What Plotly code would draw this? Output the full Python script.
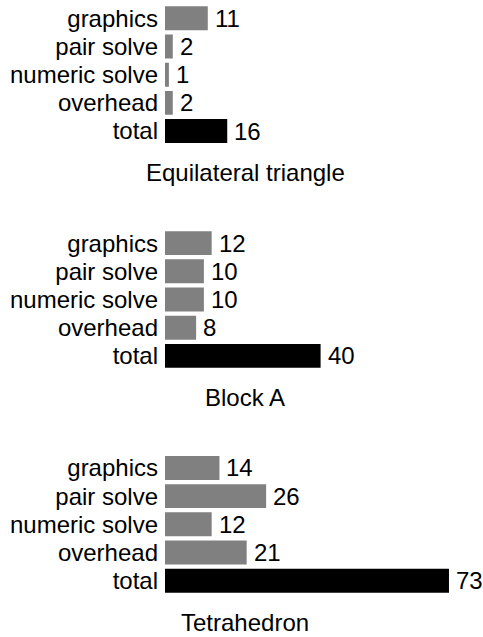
import plotly.graph_objects as go

# ---- data ----
categories = ["graphics", "pair solve", "numeric solve", "overhead", "total"]
group_titles = ["Equilateral triangle", "Block A", "Tetrahedron"]
equilateral_triangle = [11, 2, 1, 2, 16]
block_a = [12, 10, 10, 8, 40]
tetrahedron = [14, 26, 12, 21, 73]
series = [equilateral_triangle, block_a, tetrahedron]

# ---- styling / layout constants ----
W, H = 483, 637
FONT = "Liberation Sans, Arial, Helvetica, sans-serif"
FS = 24
GREY = "#808080"
BLACK = "#000000"
LEFT = 165          # pixel x of bar baseline
PX_PER_UNIT = 3.89
PITCH = 28.75       # px per category row
FIRST_CENTER = 17.2 # px from top of first row in group 1
GROUP_STEP = 224.8  # px between groups
TITLE_OFFSET = 155.5
TITLE_X = 245

plot_w = W - LEFT
xmax = plot_w / PX_PER_UNIT

fig = go.Figure()
annotations = []
for i, (vals, title) in enumerate(zip(series, group_titles)):
    idx = "" if i == 0 else str(i + 1)
    xa, ya = "x" + idx, "y" + idx
    colors = [BLACK if c == "total" else GREY for c in categories]
    fig.add_trace(go.Bar(
        x=vals, y=categories, orientation="h",
        marker=dict(color=colors, line=dict(width=0)),
        xaxis=xa, yaxis=ya, width=0.85, showlegend=False,
        hoverinfo="x+y",
    ))
    center0 = FIRST_CENTER + i * GROUP_STEP
    top_px = center0 - PITCH / 2
    bot_px = top_px + PITCH * len(categories)
    dom = [1 - bot_px / H, 1 - top_px / H]
    fig.update_layout(**{
        "xaxis" + idx: dict(range=[0, xmax], domain=[0, 1], visible=False,
                             anchor=ya, fixedrange=True),
        "yaxis" + idx: dict(domain=dom, anchor=xa, autorange="reversed",
                             categoryorder="array", categoryarray=categories,
                             tickmode="array", tickvals=categories,
                             ticktext=categories, fixedrange=True,
                             showgrid=False, zeroline=False, showline=False,
                             ticks="", ticklabelstandoff=6,
                             tickfont=dict(family=FONT, size=FS, color="black")),
    })
    for c, v in zip(categories, vals):
        annotations.append(dict(
            x=v, y=c, xref=xa, yref=ya, text=str(v), showarrow=False,
            xanchor="left", yanchor="middle", xshift=5,
            font=dict(family=FONT, size=FS, color="black")))
    annotations.append(dict(
        x=(TITLE_X - LEFT) / plot_w, y=1 - (center0 + TITLE_OFFSET) / H,
        xref="paper", yref="paper",
        text=title, showarrow=False, xanchor="center", yanchor="middle",
        font=dict(family=FONT, size=FS, color="black")))

fig.update_layout(
    width=W, height=H,
    margin=dict(l=LEFT, r=0, t=0, b=0, pad=0),
    paper_bgcolor="white", plot_bgcolor="white",
    annotations=annotations,
    font=dict(family=FONT, size=FS, color="black"),
)

fig.write_html("out.html", config={"displayModeBar": False},
               post_script="document.body.style.margin='0';document.body.style.overflow='hidden';")
